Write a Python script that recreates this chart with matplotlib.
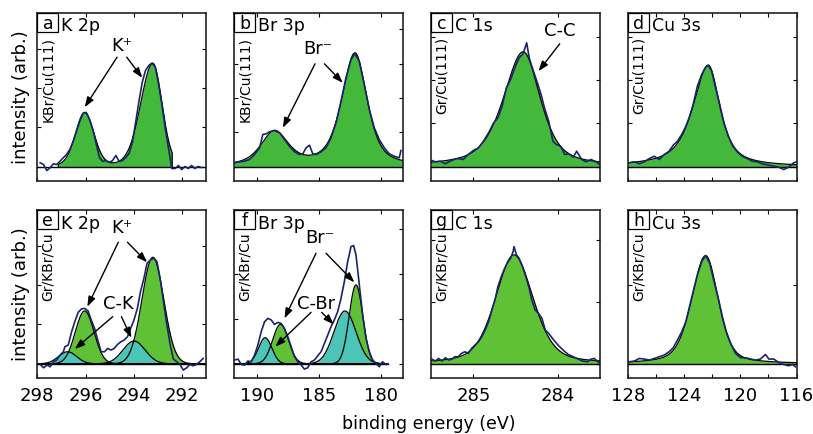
import numpy as np
import matplotlib
matplotlib.use("Agg")
import matplotlib.pyplot as plt
from matplotlib.patches import Rectangle

# ---------------- labels ----------------
panel_letters = ["a", "b", "c", "d", "e", "f", "g", "h"]
panel_titles = ["K 2p", "Br 3p", "C 1s", "Cu 3s", "K 2p", "Br 3p", "C 1s", "Cu 3s"]
sample_labels = ["KBr/Cu(111)", "KBr/Cu(111)", "Gr/Cu(111)", "Gr/Cu(111)",
                 "Gr/KBr/Cu", "Gr/KBr/Cu", "Gr/KBr/Cu", "Gr/KBr/Cu"]
xlabel_text = "binding energy (eV)"
ylabel_text = "intensity (arb.)"

# x-axis ranges / ticks (binding energy, eV)
k_xlim = (297.93, 291.03)
k_ticks = [298, 296, 294, 292]
br_xlim = (191.85, 178.23)
br_ticks = [190, 185, 180]
c_xlim = (285.50, 283.51)
c_ticks = [285, 284]
cu_xlim = (128.0, 116.0)
cu_ticks = [128, 124, 120, 116]
cu_minor = [126, 122, 118]

# ---------------- measured spectra ----------------
a_energy = np.linspace(297.88, 291.21, 50)
a_counts = [3.7, 2, -4, -1.3, 2.7, 2, 5.3, 8.7, 12, 17, 25, 35, 45, 53, 54, 47, 37, 23, 9, 5,
            6, 4, 6, 11, 5, 6, 9, 13, 24, 44, 65, 84, 96, 101, 103.5, 99, 82, 62, 38, 18,
            -2, -2, 1, -3, 0, -2, 1, -2, 0, -1]

b_energy = [191.80, 191.40, 190.99, 190.59, 190.19, 189.78, 189.52, 189.25, 188.98, 188.58,
            188.17, 187.77, 187.37, 186.96, 186.56, 186.29, 186.02, 185.75, 185.48, 185.22,
            184.81, 184.41, 184.01, 183.60, 183.20, 182.80, 182.39, 182.07, 181.72, 181.32,
            180.91, 180.51, 180.11, 179.70, 179.30, 178.90, 178.49, 178.36]
b_counts = [3.7, 4.7, 5.3, 7, 12, 18.7, 32, 32.7, 34.7, 36,
            33.7, 27, 20.3, 14.7, 12, 12.7, 18.7, 21.3, 12.7, 12,
            14.7, 18.7, 28.7, 43.7, 65.3, 88.7, 107, 112.7, 105, 82,
            57, 38.7, 27, 18.7, 12.7, 10.3, 8.7, 16]

c_energy = [285.49, 285.45, 285.39, 285.33, 285.29, 285.23, 285.18, 285.12, 285.06, 285.00,
            284.94, 284.88, 284.82, 284.76, 284.71, 284.66, 284.61, 284.56, 284.51, 284.46,
            284.42, 284.40, 284.37, 284.34, 284.31, 284.25, 284.20, 284.16, 284.11, 284.06,
            284.02, 283.97, 283.92, 283.87, 283.82, 283.78, 283.72, 283.67, 283.61, 283.55,
            283.51]
c_counts = [6, 4.7, 5.3, 2.7, 4.7, 7, 8, 7, 12, 16,
            18.7, 25.3, 33.7, 43.7, 48.7, 60.3, 78.7, 87, 98.7, 108.7,
            112, 116, 123.7, 108.7, 100.3, 85.3, 72, 58.7, 45.3, 25.3,
            22, 20.3, 12, 12.7, 9.3, 15.3, 7, 4.7, 7, 4.7,
            2]

d_energy = [127.90, 127.55, 127.19, 126.84, 126.48, 126.13, 125.78, 125.42, 125.07, 124.78,
            124.48, 124.17, 123.88, 123.65, 123.36, 123.06, 122.75, 122.47, 122.28, 122.04,
            121.76, 121.47, 121.17, 120.86, 120.53, 120.22, 119.87, 119.51, 119.16, 118.80,
            118.45, 117.97, 117.62, 117.26, 116.91, 116.56, 116.20, 116.00]
d_counts = [3.7, 4.7, 2.7, 4.7, 8, 10.3, 7, 12, 15.3, 21.3,
            25.3, 32, 40.3, 48.7, 62, 80.3, 92, 99.3, 101.3, 95.3,
            78.7, 62, 43.7, 30.3, 20.3, 14.7, 10.3, 8, 5.3, 4.7,
            2.7, 1.3, 0.3, -0.7, -3, -0.7, 3.7, 4.7]

e_energy = [297.88, 297.74, 297.60, 297.47, 297.33, 297.20, 297.06, 296.92, 296.86, 296.72,
            296.58, 296.45, 296.31, 296.18, 296.04, 295.90, 295.77, 295.63, 295.50, 295.36,
            295.22, 295.09, 294.95, 294.82, 294.68, 294.54, 294.41, 294.27, 294.14, 294.00,
            293.86, 293.73, 293.59, 293.46, 293.32, 293.18, 293.05, 292.91, 292.78, 292.64,
            292.50, 292.37, 292.23, 292.10, 291.96, 291.82, 291.69, 291.55, 291.42, 291.28,
            291.14]
e_counts = [-0.7, -4, -1.3, -3, 2, 3.7, 8.7, 12, 17, 18.7,
            32, 42, 51.3, 54.7, 55.3, 52.7, 43.7, 35.3, 23.7, 12,
            12, 15.3, 13.7, 15.3, 19.3, 22, 23.7, 27, 35.3, 43.7,
            55.3, 72, 85.3, 100.3, 103.7, 105.3, 102, 83.7, 62, 38.7,
            18.7, 4.7, 2, -0.7, -6.3, -4, -0.7, -2, -0.7, 2,
            5.3]

f_energy = [191.80, 191.53, 191.26, 190.99, 190.73, 190.46, 190.19, 189.92, 189.65, 189.38,
            189.11, 188.84, 188.58, 188.31, 188.04, 187.77, 187.50, 187.23, 186.96, 186.69,
            186.42, 186.16, 185.89, 185.62, 185.35, 185.08, 184.81, 184.54, 184.27, 184.01,
            183.74, 183.47, 183.20, 182.93, 182.66, 182.39, 182.18, 181.99, 181.72, 181.45,
            181.18, 180.91, 180.65, 180.38, 180.11, 179.84, 179.57, 179.44]
f_counts = [3.7, 4.7, -0.7, -1.3, 2.7, 2, 8.7, 18.7, 32, 42,
            45.3, 43.7, 39.3, 41.3, 40.3, 35.3, 27, 17, 7, 2,
            -1.3, -5.3, -4, 2, 3.7, 8, 12, 20.3, 28.7, 37,
            43.7, 52, 65.3, 82, 102, 117, 118, 108.7, 78.7, 48.7,
            25.3, 12, 3.7, 0.3, -3, 2, -0.7, 0]

g_energy = [285.49, 285.45, 285.41, 285.37, 285.33, 285.29, 285.25, 285.22, 285.18, 285.14,
            285.10, 285.06, 285.02, 284.98, 284.94, 284.90, 284.86, 284.82, 284.78, 284.74,
            284.71, 284.67, 284.63, 284.59, 284.56, 284.53, 284.52, 284.49, 284.46, 284.42,
            284.38, 284.34, 284.31, 284.27, 284.23, 284.19, 284.15, 284.11, 284.06, 284.00,
            283.94, 283.88, 283.82, 283.76, 283.71, 283.65, 283.61, 283.57, 283.52]
g_counts = [4.7, 2.7, 5.3, 2.7, 6, 3.7, 4.7, 7, 7, 10.3,
            12, 10.3, 15.3, 18.7, 22, 27, 33.7, 42, 53.7, 65.3,
            77, 87, 95.3, 102, 105.3, 112, 117, 108.7, 105.3, 97,
            87, 75.3, 63.7, 53.7, 50.3, 45.3, 33.7, 30.3, 24.7, 18.7,
            13.7, 9.3, 7, 4.7, 2.7, 2, 4.7, 5.3, 1.3]

h_energy = [127.90, 127.55, 127.19, 126.84, 126.48, 126.13, 125.78, 125.42, 125.07, 124.78,
            124.48, 124.17, 123.88, 123.65, 123.36, 123.06, 122.75, 122.47, 122.18, 121.87,
            121.57, 121.28, 121.00, 120.69, 120.34, 119.98, 119.63, 119.27, 118.92, 118.57,
            118.21, 117.97, 117.62, 117.26, 116.91, 116.56, 116.27, 116.08]
h_counts = [2, 2.7, 5.3, 4.7, 3.7, 5.3, 7, 8.7, 12, 16,
            23.7, 32, 42, 55.3, 72, 88.7, 102, 108, 100.3, 82,
            65.3, 47, 32, 20.3, 10.3, 6, 6, 4.7, 3.7, 4.7,
            9.3, 4.7, 4.7, 1.3, -0.7, -2, -0.7, -3]

# ---------------- fitted components ----------------
# (center eV, height, HWHM on high-BE side, HWHM on low-BE side, Lorentz fraction)
a_centers = [296.04, 293.22]; a_heights = [53.5, 103.0]
a_hw_hi = [0.45, 0.60]; a_hw_lo = [0.45, 0.45]; a_eta = 0.15
a_fit_range = (297.13, 292.42)

b_centers = [188.57, 182.07]; b_heights = [33.7, 112.9]
b_hw_hi = [1.30, 1.26]; b_hw_lo = [1.30, 1.16]; b_eta = 0.6

c_centers = [284.41]; c_heights = [114.7]
c_hw_hi = [0.28]; c_hw_lo = [0.24]; c_eta = 0.6

d_centers = [122.28]; d_heights = [101.3]
d_hw_hi = [1.30]; d_hw_lo = [0.99]; d_eta = 0.75

e_green_centers = [296.04, 293.22]; e_green_heights = [52.7, 106.3]; e_green_hw = [0.455, 0.53]
e_teal_centers = [296.75, 294.00]; e_teal_heights = [12.0, 22.7]; e_teal_hw = [0.44, 0.54]

f_green_centers = [188.09, 181.99]; f_green_heights = [39.3, 78.7]; f_green_hw = [0.75, 0.65]
f_teal_centers = [189.33, 182.88]; f_teal_heights = [26.0, 52.7]; f_teal_hw = [0.63, 1.05]
f_fit_range = (191.85, 179.44)

g_centers = [284.52]; g_heights = [108.7]
g_hw_hi = [0.26]; g_hw_lo = [0.27]; g_eta = 0.4

h_centers = [122.47]; h_heights = [108.0]
h_hw_hi = [1.18]; h_hw_lo = [1.06]; h_eta = 0.4

# ---------------- styles ----------------
green_top = "#43b83b"
green_bot = "#5fc236"
teal = "#4cc5b9"
navy = "#1a2568"

def pvoigt(x, center, height, hw_hi, hw_lo, eta):
    w = np.where(x >= center, hw_hi, hw_lo)
    u = (x - center) / w
    return height * (eta / (1 + u ** 2) + (1 - eta) * np.exp(-np.log(2) * u ** 2))

def envelope(x, centers, heights, hw_hi, hw_lo, eta):
    tot = np.zeros_like(x)
    for c, h, w1, w2 in zip(centers, heights, hw_hi, hw_lo):
        tot += pvoigt(x, c, h, w1, w2, eta)
    return tot

fig = plt.figure(figsize=(8.13, 4.34), dpi=100)
W, H = 813.0, 434.0
lefts = [37.3, 234.0, 431.0, 628.0]
aw = 168.5
rows = [(13.0, 181.0), (210.0, 378.3)]
axes = []
for r, (top, bot) in enumerate(rows):
    for cidx in range(4):
        ax = fig.add_axes([lefts[cidx] / W, 1 - bot / H, aw / W, (bot - top) / H])
        axes.append(ax)

col_xlim = [k_xlim, br_xlim, c_xlim, cu_xlim]
col_ticks = [k_ticks, br_ticks, c_ticks, cu_ticks]
col_minor = [None, None, None, cu_minor]
ytick_steps = [39.3, 34.3, 43.3, 43.3, 39.3, 45.0, 62.0, 78.7]

for i, ax in enumerate(axes):
    col = i % 4
    bottom_row = i >= 4
    ax.set_xlim(*col_xlim[col])
    ax.set_ylim(-14.5, 153.5)
    ax.set_xticks(col_ticks[col])
    if col_minor[col] is not None:
        ax.set_xticks(col_minor[col], minor=True)
    ax.set_yticks(np.arange(0, 150, ytick_steps[i]))
    ax.tick_params(which="both", direction="in", top=True, right=True, left=True,
                   bottom=True, length=3, width=0.8, labelleft=False,
                   labelbottom=bottom_row, labelsize=13, pad=6)
    for s in ax.spines.values():
        s.set_linewidth(1.2)
        s.set_color("#222222")
    # letter box + title
    ax.add_patch(Rectangle((0, 0.887), 0.125, 0.113, transform=ax.transAxes,
                           facecolor="white", edgecolor="k", lw=0.9, zorder=6, clip_on=False))
    ax.text(0.0625, 0.905, panel_letters[i], transform=ax.transAxes, ha="center",
            va="baseline", fontsize=12.5, zorder=7)
    ax.text(0.14, 0.89, panel_titles[i], transform=ax.transAxes, ha="left",
            va="baseline", fontsize=12.5, zorder=7)
    ax.text(0.064, 0.855 if not bottom_row else 0.865, sample_labels[i],
            transform=ax.transAxes, rotation=90, ha="center", va="top", fontsize=10, zorder=7)

# ---- envelope fills ----
def draw_envelope(ax, xr, centers, heights, hw_hi, hw_lo, eta, color, edges=False):
    x = np.linspace(xr[0], xr[1], 800)
    y = envelope(x, centers, heights, hw_hi, hw_lo, eta)
    ax.fill_between(x, 0, y, color=color, lw=0, zorder=2)
    if edges:
        x = np.concatenate([[x[0]], x, [x[-1]]])
        y = np.concatenate([[0], y, [0]])
    ax.plot(x, y, color="k", lw=0.9, zorder=3)

draw_envelope(axes[0], a_fit_range, a_centers, a_heights, a_hw_hi, a_hw_lo, a_eta, green_top, edges=True)
draw_envelope(axes[1], br_xlim, b_centers, b_heights, b_hw_hi, b_hw_lo, b_eta, green_top)
draw_envelope(axes[2], c_xlim, c_centers, c_heights, c_hw_hi, c_hw_lo, c_eta, green_top)
draw_envelope(axes[3], cu_xlim, d_centers, d_heights, d_hw_hi, d_hw_lo, d_eta, green_top)
draw_envelope(axes[6], c_xlim, g_centers, g_heights, g_hw_hi, g_hw_lo, g_eta, green_bot)
draw_envelope(axes[7], cu_xlim, h_centers, h_heights, h_hw_hi, h_hw_lo, h_eta, green_bot)

# ---- bottom row e, f: separate components ----
def draw_components(ax, xr, gc, gh, gw, tc, th, tw):
    x = np.linspace(xr[0], xr[1], 800)
    curves = []
    for c, h, w in zip(gc, gh, gw):
        y = pvoigt(x, c, h, w, w, 0.0)
        ax.fill_between(x, 0, y, color=green_bot, lw=0, zorder=2)
        curves.append(y)
    for c, h, w in zip(tc, th, tw):
        y = pvoigt(x, c, h, w, w, 0.0)
        ax.fill_between(x, 0, y, color=teal, lw=0, zorder=2.1)
        curves.append(y)
    for y in curves:
        ax.plot(x, y, color="k", lw=0.9, zorder=3)

draw_components(axes[4], k_xlim, e_green_centers, e_green_heights, e_green_hw,
                e_teal_centers, e_teal_heights, e_teal_hw)
draw_components(axes[5], f_fit_range, f_green_centers, f_green_heights, f_green_hw,
                f_teal_centers, f_teal_heights, f_teal_hw)

# ---- baselines ----
for i, ax in enumerate(axes):
    if i == 5:
        ax.plot(f_fit_range, [0, 0], color="k", lw=1.0, zorder=3)
    else:
        ax.axhline(0, color="k", lw=1.0, zorder=3)

# ---- measured data ----
spectra = [(a_energy, a_counts), (b_energy, b_counts), (c_energy, c_counts), (d_energy, d_counts),
           (e_energy, e_counts), (f_energy, f_counts), (g_energy, g_counts), (h_energy, h_counts)]
for ax, (xe, yc) in zip(axes, spectra):
    ax.plot(xe, yc, color=navy, lw=1.2, zorder=4)

# ---- annotations ----
def arrow(ax, start, end):
    ax.annotate("", xy=end, xytext=start,
                arrowprops=dict(arrowstyle="-|>,head_length=0.5,head_width=0.18",
                                color="k", lw=1.0, mutation_scale=12,
                                shrinkA=0, shrinkB=0), zorder=5)

def label(ax, pos, txt):
    ax.text(pos[0], pos[1], txt, ha="center", va="center", fontsize=13, zorder=6)

label(axes[0], (294.52, 120.3), "K\u207a")
arrow(axes[0], (294.70, 109.3), (296.04, 59.3))
arrow(axes[0], (294.30, 109.3), (293.66, 88.7))

label(axes[1], (185.03, 117.0), "Br\u207b")
arrow(axes[1], (185.30, 102.7), (187.90, 38.7))
arrow(axes[1], (184.54, 102.7), (183.06, 83.7))

label(axes[2], (283.98, 135.3), "C-C")
arrow(axes[2], (283.98, 122.7), (284.23, 95.3))

label(axes[4], (294.52, 135.3), "K\u207a")
arrow(axes[4], (294.65, 121.3), (295.93, 57.0))
arrow(axes[4], (294.27, 121.3), (293.46, 101.3))
label(axes[4], (294.65, 59.3), "C-K")
arrow(axes[4], (294.88, 47.0), (296.45, 14.7))
arrow(axes[4], (294.52, 47.0), (294.11, 26.0))

label(axes[5], (184.87, 125.3), "Br\u207b")
arrow(axes[5], (185.22, 110.3), (187.77, 45.3))
arrow(axes[5], (184.41, 110.3), (182.12, 81.3))
label(axes[5], (185.22, 59.3), "C-Br")
arrow(axes[5], (185.62, 51.3), (188.52, 17.0))
arrow(axes[5], (184.76, 51.3), (183.79, 39.3))

# ---- axis labels ----
fig.text(0.026, 1 - 97 / H, ylabel_text, rotation=90, ha="center", va="center", fontsize=13)
fig.text(0.026, 1 - 294 / H, ylabel_text, rotation=90, ha="center", va="center", fontsize=13)
fig.text(0.527, 0.012, xlabel_text, ha="center", va="baseline", fontsize=12.5)

fig.savefig("out.png", dpi=100)
